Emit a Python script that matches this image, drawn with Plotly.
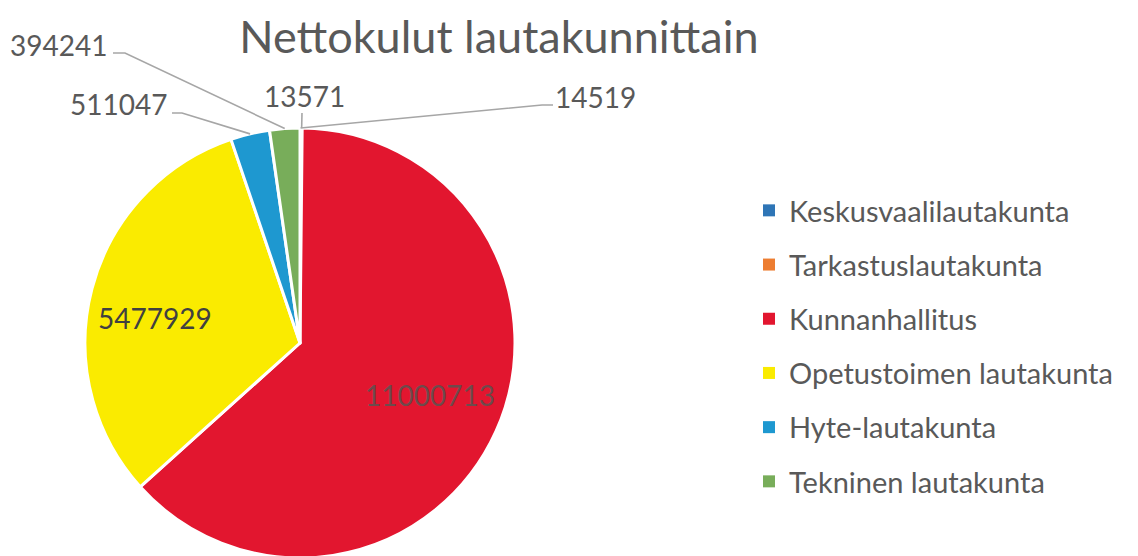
import math
import plotly.graph_objects as go

# ---- data ----
categories = ["Keskusvaalilautakunta", "Tarkastuslautakunta", "Kunnanhallitus",
              "Opetustoimen lautakunta", "Hyte-lautakunta", "Tekninen lautakunta"]
values = [14519, 13571, 11000713, 5477929, 511047, 394241]
colors = ["#2E75B6", "#ED7D31", "#E2162F", "#FAEB00", "#1E98D0", "#78AD5A"]
title_text = "Nettokulut lautakunnittain"

# ---- layout constants (screen pixels) ----
W, H = 1138, 556
OFF = 8                     # default page body margin
CX, CY, R = 300, 343, 215   # pie centre / radius on screen
FONT = "Lato"
TXT = "#595959"
LINE = "#A6A6A6"


def px(x, y):
    """screen px -> paper coords"""
    return (x - OFF) / W, 1 - (y - OFF) / H


total = sum(values)
mid_angles = []
acc = 0
for v in values:
    mid_angles.append((acc + v / 2) / total * 360)
    acc += v


def rim(i, rr=1.0):
    a = math.radians(mid_angles[i])
    return CX + rr * R * math.sin(a), CY - rr * R * math.cos(a)


x0, y1 = px(CX - R, CY - R)
x1, y0 = px(CX + R, CY + R)

fig = go.Figure()
fig.add_trace(go.Pie(
    labels=categories, values=values, sort=False, direction="clockwise", rotation=0,
    marker=dict(colors=colors, line=dict(color="white", width=3)),
    textinfo="none", hoverinfo="label+value", showlegend=False,
    domain=dict(x=[x0, x1], y=[y0, y1]),
))

# legend entries
for name, col in zip(categories, colors):
    fig.add_trace(go.Scatter(x=[None], y=[None], mode="markers", name=name,
                             legendgroup=name,
                             marker=dict(symbol="square", size=11, color=col)))

annotations = []
shapes = []

label_layout = {
    0: dict(pos=(595, 97), path=[(553, 105), (542, 105)]),
    1: dict(pos=(304, 96), path=[(302, 113)]),
    4: dict(pos=(118, 104), path=[(172, 113), (182, 113)]),
    5: dict(pos=(58, 45), path=[(113, 53), (125, 53)]),
}
for i, cfg in label_layout.items():
    x, y = px(*cfg["pos"])
    annotations.append(dict(x=x, y=y, xref="paper", yref="paper", text=str(values[i]),
                            showarrow=False, xanchor="center", yanchor="middle",
                            font=dict(family=FONT, size=28, color=TXT)))
    pts = cfg["path"] + [rim(i)]
    d = "M " + " L ".join(f"{px(a, b)[0]},{px(a, b)[1]}" for a, b in pts)
    shapes.append(dict(type="path", path=d, xref="paper", yref="paper",
                       line=dict(color=LINE, width=1.6)))

inside_pos = {2: ((430, 395), "#6E4A4C"), 3: ((155, 318), "#404040")}
for i, (p, col) in inside_pos.items():
    x, y = px(*p)
    annotations.append(dict(x=x, y=y, xref="paper", yref="paper", text=str(values[i]),
                            showarrow=False, xanchor="center", yanchor="middle",
                            font=dict(family=FONT, size=28, color=col)))

tx, ty = px(499, 37)
lx, ly = px(749, 185)
fig.update_layout(
    width=W, height=H,
    margin=dict(l=0, r=0, t=0, b=0),
    paper_bgcolor="white", plot_bgcolor="white",
    title=dict(text=title_text, x=tx, xanchor="center", y=ty, yanchor="middle",
               font=dict(family=FONT, size=45, color=TXT)),
    xaxis=dict(visible=False), yaxis=dict(visible=False),
    legend=dict(x=lx, xanchor="left", y=ly, yanchor="top",
                font=dict(family=FONT, size=29, color=TXT),
                tracegroupgap=13.5, itemsizing="constant", bgcolor="rgba(0,0,0,0)"),
    annotations=annotations, shapes=shapes,
)

fig.write_html("out.html")
